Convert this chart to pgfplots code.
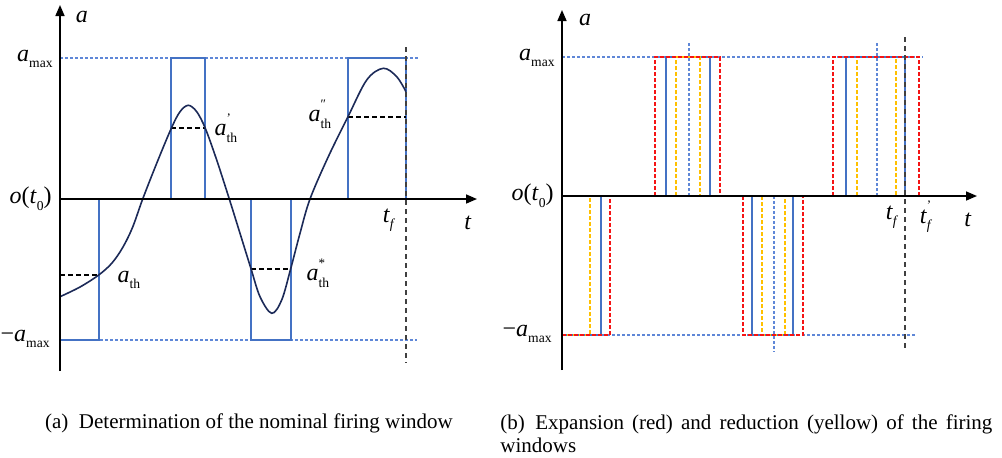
\documentclass[border=0pt]{standalone}
\usepackage{fontspec}
\setmainfont{Liberation Serif}
\usepackage{pgfplots}
\pgfplotsset{compat=1.18}
\usetikzlibrary{arrows.meta}

\definecolor{winblue}{RGB}{68,114,196}
\definecolor{refblue}{RGB}{95,135,215}
\definecolor{accnavy}{RGB}{28,42,88}
\definecolor{expred}{RGB}{245,20,20}
\definecolor{redyellow}{RGB}{255,192,0}

% label helpers
\newcommand{\lbl}{\fontsize{12}{14}\selectfont}
\newcommand{\subs}[1]{\raisebox{-0.6ex}{\fontsize{6.8}{8}\selectfont #1}}
\newcommand{\sups}[1]{\makebox[0pt][l]{\raisebox{1.2ex}{\fontsize{6.5}{7}\selectfont #1}}}
\newcommand{\amax}{\textit{a}\subs{max}}
\newcommand{\athr}[1]{\textit{a}\sups{#1}\subs{th}}
\newcommand{\tf}{\textit{t}\subs{\textit{f}}}
\newcommand{\tfp}{\textit{t}\sups{'}\subs{\textit{f}}}
\newcommand{\ozero}{\textit{o}(\textit{t}\subs{0})}

\tikzset{lab/.style={font=\lbl, inner sep=0.5pt}}

\pgfplotsset{
  panel/.style={
    x=0.5pt, y=0.5pt, anchor=south west,
    axis lines=middle, ticks=none, clip=false, axis on top,
    axis line style={line width=0.8pt, black},
    every inner x axis line/.append style={-{Triangle[length=5.5pt,width=4.5pt]}},
    every inner y axis line/.append style={-{Triangle[length=5.5pt,width=4.5pt]}},
  },
  window/.style={winblue, line width=1pt},
  limit/.style={refblue, line width=0.6pt, dash pattern=on 1.5pt off 1pt},
  thr/.style={black, line width=0.6pt, dash pattern=on 2.5pt off 1.5pt},
  final/.style={black!75, line width=0.6pt, dash pattern=on 2.5pt off 2pt},
  expand/.style={expred, line width=1pt, dash pattern=on 2pt off 1pt},
  reduce/.style={redyellow, line width=1pt, dash pattern=on 2pt off 1pt},
  centre/.style={refblue, line width=0.6pt, dash pattern=on 1.5pt off 1pt},
}

\begin{document}
\begin{tikzpicture}
\useasboundingbox (0,0) rectangle (501pt,-228.5pt);

% ---------------- (a) nominal firing windows ----------------
\begin{axis}[panel, at={(30pt,-185.5pt)}, xmin=0, xmax=417, ymin=-172, ymax=194]
  \addplot[limit] coordinates {(0,141) (358,141)};
  \addplot[limit] coordinates {(0,-141) (357,-141)};
  \addplot[window] coordinates {(0,0) (0,-141) (39,-141) (39,0) (0,0)};
  \addplot[window] coordinates {(111,0) (111,141) (145,141) (145,0) (111,0)};
  \addplot[window] coordinates {(191,0) (191,-141) (231,-141) (231,0) (191,0)};
  \addplot[window] coordinates {(288,0) (288,141) (346,141) (346,0) (288,0)};
  \addplot[final] coordinates {(346,152) (346,-164)};
  \addplot[thr] coordinates {(0,-76) (39,-76)};
  \addplot[thr] coordinates {(111,71) (145,71)};
  \addplot[thr] coordinates {(191,-70) (231,-70)};
  \addplot[thr] coordinates {(288,82) (346,82)};
  \addplot[accnavy, line width=0.8pt, smooth, tension=0.55] coordinates {
    (0,-97.7) (20,-88) (38.7,-76) (52,-64) (63,-48) (72.7,-28) (82.7,0)
    (96.7,35.7) (111.3,70.7) (120,87.3) (128.3,93.7) (136.7,87.3) (145.3,70.7)
    (156.7,39) (169.3,0) (180,-34.3) (191,-69.7) (200,-97.7) (211.7,-114.3)
    (221.7,-101) (230.7,-69.7) (240,-34.3) (250,0) (268.3,42.3) (288,82.3)
    (306.7,119) (323.3,130.7) (336.7,122.3) (346,107.3)};
  \node[lab, anchor=east] at (axis cs:-6,140) {\amax};
  \node[lab, anchor=east] at (axis cs:-7,0) {\ozero};
  \node[lab, anchor=east] at (axis cs:-9,-140) {−\amax};
  \node[lab] at (axis cs:22,182) {\textit{a}};
  \node[lab] at (axis cs:408,-24) {\textit{t}};
  \node[lab] at (axis cs:329,-21) {\tf};
  \node[lab] at (axis cs:69,-80) {\athr{}};
  \node[lab] at (axis cs:166,71) {\athr{'}};
  \node[lab] at (axis cs:258,-74) {\athr{*}};
  \node[lab] at (axis cs:260,85) {\athr{″}};
\end{axis}

% ---------------- (b) expanded and reduced windows ----------------
\begin{axis}[panel, at={(281pt,-185pt)}, xmin=0, xmax=415, ymin=-174, ymax=186]
  \addplot[limit] coordinates {(0,139) (361,139)};
  \addplot[limit] coordinates {(0,-139) (353,-139)};
  % centre lines of the windows
  \addplot[centre] coordinates {(127,0) (127,153)};
  \addplot[centre] coordinates {(212,0) (212,-156)};
  \addplot[centre] coordinates {(315,0) (315,153)};
  % nominal windows
  \addplot[window] coordinates {(0,0) (0,-139) (39,-139) (39,0)};
  \addplot[window] coordinates {(104,0) (104,139) (148,139) (148,0) (104,0)};
  \addplot[window] coordinates {(190,0) (190,-139) (231,-139) (231,0) (190,0)};
  \addplot[window] coordinates {(284,0) (284,139) (343,139) (343,0) (284,0)};
  % reduced windows
  \addplot[reduce] coordinates {(0,0) (0,-139) (28,-139) (28,0)};
  \addplot[reduce] coordinates {(114,0) (114,139) (138,139) (138,0) (114,0)};
  \addplot[reduce] coordinates {(200,0) (200,-139) (223,-139) (223,0) (200,0)};
  \addplot[reduce] coordinates {(295,0) (295,139) (334,139) (334,0) (295,0)};
  % expanded windows
  \addplot[expand] coordinates {(0,-139) (48,-139) (48,0) (0,0)};
  \addplot[expand] coordinates {(93,0) (93,139) (158,139) (158,0) (93,0)};
  \addplot[expand] coordinates {(181,0) (181,-139) (241,-139) (241,0) (181,0)};
  \addplot[expand] coordinates {(271,0) (271,139) (357,139) (357,0) (271,0)};
  \addplot[final] coordinates {(343,159) (343,-154)};
  \node[lab, anchor=east] at (axis cs:-6,138) {\amax};
  \node[lab, anchor=east] at (axis cs:-7,0) {\ozero};
  \node[lab, anchor=east] at (axis cs:-9,-138) {−\amax};
  \node[lab] at (axis cs:23,176) {\textit{a}};
  \node[lab] at (axis cs:406,-24) {\textit{t}};
  \node[lab] at (axis cs:330,-21) {\tf};
  \node[lab] at (axis cs:364,-21) {\tfp};
\end{axis}

% sub-captions
\node[font=\fontsize{10.5}{12}\selectfont] at (124.5pt,-211.5pt)
  {(a)\enspace Determination of the nominal firing window};
\node[anchor=north west, text width=246pt, align=justify,
      font=\fontsize{10.5}{11.5}\selectfont, inner sep=0pt] at (250pt,-207pt)
  {(b)\enspace Expansion (red) and reduction (yellow) of the firing \mbox{windows}};
\end{tikzpicture}
\end{document}
